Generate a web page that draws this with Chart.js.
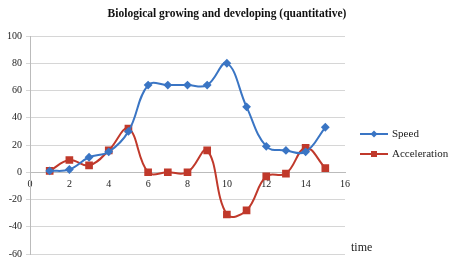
<!DOCTYPE html>
<html>
<head>
<meta charset="utf-8">
<script src="https://cdn.jsdelivr.net/npm/chart.js@4"></script>
<style>
  html, body { margin: 0; padding: 0; background: #fff; }
  #wrap { width: 450px; height: 264px; }
</style>
</head>
<body>
<div id="wrap"><canvas id="chart"></canvas></div>
<script>
// data
const times = [1, 2, 3, 4, 5, 6, 7, 8, 9, 10, 11, 12, 13, 14, 15];
const speed = [1, 2, 11, 15, 30, 64, 64, 64, 64, 80, 48, 19, 16, 15, 33];
const acceleration = [1, 9, 5, 16, 32, 0, 0, 0, 16, -31, -28, -3, -1, 18, 3];
const xTicks = [0, 2, 4, 6, 8, 10, 12, 14, 16];
const yTicks = [-60, -40, -20, 0, 20, 40, 60, 80, 100];

const titleText = 'Biological growing and developing (quantitative)';
const blue = '#3a75c4';
const red = '#c0392b';
const serif = "'Liberation Serif', 'DejaVu Serif', serif";

// title across the whole canvas, legend on the right, "time" label
const extras = {
    id: 'extras',
    afterDraw(chart) {
        const g = chart.ctx;
        const a = chart.chartArea;
        const mid = (a.top + a.bottom) / 2;
        g.save();
        g.textBaseline = 'middle';

        g.font = "bold 11.5px " + serif;
        g.fillStyle = '#111';
        g.textAlign = 'center';
        g.fillText(titleText, chart.width / 2 + 2, 14);

        g.font = "11px " + serif;
        g.textAlign = 'left';
        chart.data.datasets.forEach((ds, i) => {
            const y = mid - 11 + i * 20;
            const x0 = a.right + 15;
            g.strokeStyle = ds.borderColor;
            g.fillStyle = ds.borderColor;
            g.lineWidth = 2;
            g.beginPath(); g.moveTo(x0, y); g.lineTo(x0 + 28, y); g.stroke();
            if (ds.pointStyle === 'rect') {
                g.fillRect(x0 + 11, y - 3, 6, 6);
            } else {
                g.beginPath();
                g.moveTo(x0 + 14, y - 3.5); g.lineTo(x0 + 17.5, y);
                g.lineTo(x0 + 14, y + 3.5); g.lineTo(x0 + 10.5, y);
                g.closePath(); g.fill();
            }
            g.fillStyle = '#222';
            g.fillText(ds.label, x0 + 32, y);
        });

        g.font = "12px " + serif;
        g.fillText('time', a.right + 6, a.bottom - 6);
        g.restore();
    }
};

new Chart(document.getElementById('chart'), {
    type: 'line',
    data: {
        datasets: [{
            label: 'Speed',
            data: times.map((t, i) => ({ x: t, y: speed[i] })),
            borderColor: blue,
            backgroundColor: blue,
            borderWidth: 2,
            pointStyle: 'rectRot',
            pointRadius: 3,
            tension: 0.4
        }, {
            label: 'Acceleration',
            data: times.map((t, i) => ({ x: t, y: acceleration[i] })),
            borderColor: red,
            backgroundColor: red,
            borderWidth: 2,
            pointStyle: 'rect',
            pointRadius: 4,
            tension: 0.4
        }]
    },
    options: {
        responsive: true,
        maintainAspectRatio: false,
        animation: false,
        layout: { padding: { left: 3, right: 105, top: 36, bottom: 2 } },
        plugins: {
            title: { display: false },
            legend: { display: false },
            tooltip: { enabled: false }
        },
        scales: {
            x: {
                type: 'linear',
                position: { y: 0 },
                min: 0,
                max: 16,
                afterBuildTicks: axis => { axis.ticks = xTicks.map(v => ({ value: v })); },
                ticks: { font: { family: serif, size: 10 }, color: '#222', padding: 2 },
                grid: { display: false, drawTicks: true, tickLength: 4, color: '#bbb' },
                border: { color: '#bbb' }
            },
            y: {
                min: -60,
                max: 100,
                afterBuildTicks: axis => { axis.ticks = yTicks.map(v => ({ value: v })); },
                ticks: { font: { family: serif, size: 10 }, color: '#222', padding: 4 },
                grid: { color: '#d6d6d6', tickLength: 4 },
                border: { color: '#bbb' }
            }
        }
    },
    plugins: [extras]
});
</script>
</body>
</html>
